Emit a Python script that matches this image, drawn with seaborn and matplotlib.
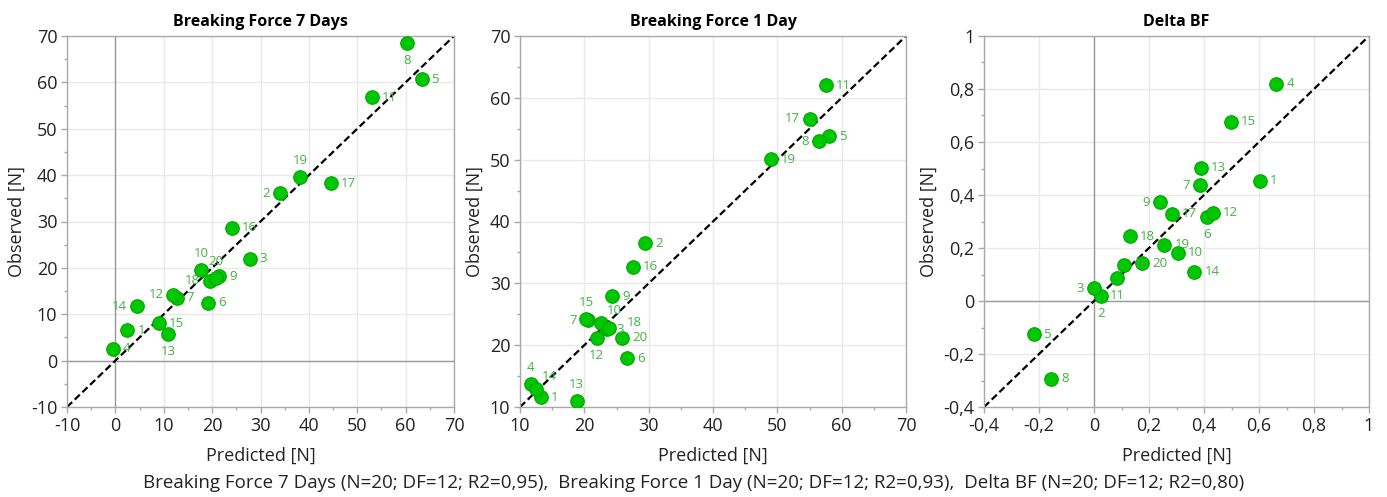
import matplotlib
matplotlib.use("Agg")
import matplotlib.pyplot as plt
from matplotlib.ticker import MultipleLocator, FuncFormatter
import numpy as np
import pandas as pd
import seaborn as sns

# Observation numbers
ids = list(range(1, 21))

# Breaking Force 7 Days
bf7_pred = [2.5, 34.1, 27.8, -0.5, 63.3, 19.2, 12.7, 60.3, 21.4, 17.7,
            53.1, 12.0, 10.9, 4.5, 9.0, 24.1, 44.6, 19.6, 38.2, 20.7]
bf7_obs = [6.5, 36.1, 22.0, 2.6, 60.7, 12.5, 13.6, 68.5, 18.2, 19.6,
           56.8, 14.2, 5.7, 11.7, 8.1, 28.6, 38.3, 17.2, 39.6, 17.8]

# Breaking Force 1 Day
bf1_pred = [13.3, 29.5, 23.5, 11.7, 58.1, 26.6, 20.5, 56.5, 24.3, 22.6,
            57.5, 21.9, 18.8, 12.5, 20.3, 27.6, 55.1, 23.9, 49.0, 25.9]
bf1_obs = [11.6, 36.5, 22.6, 13.8, 53.8, 17.9, 24.0, 53.0, 27.9, 23.6,
           62.0, 21.2, 10.9, 12.9, 24.2, 32.7, 56.6, 22.8, 50.1, 21.2]

# Delta BF
dbf_pred = [0.602, 0.026, 0.000, 0.663, -0.220, 0.410, 0.385, -0.155, 0.241, 0.304,
            0.084, 0.433, 0.390, 0.365, 0.497, 0.110, 0.282, 0.130, 0.256, 0.174]
dbf_obs = [0.454, 0.020, 0.049, 0.819, -0.126, 0.316, 0.437, -0.293, 0.372, 0.183,
           0.085, 0.333, 0.503, 0.110, 0.676, 0.136, 0.330, 0.245, 0.213, 0.143]

titles = ["Breaking Force 7 Days", "Breaking Force 1 Day", "Delta BF"]
x_label = "Predicted [N]"
y_label = "Observed [N]"
caption = ("Breaking Force 7 Days (N=20; DF=12; R2=0,95),  "
           "Breaking Force 1 Day (N=20; DF=12; R2=0,93),  "
           "Delta BF (N=20; DF=12; R2=0,80)")

# Label placement around each marker: r=right, l=left, a=above, b=below,
# ar=above-right, rr=further right and slightly raised
placements = [
    {1: "r", 2: "l", 3: "r", 4: "r", 5: "r", 6: "r", 7: "r", 8: "b", 9: "r", 10: "a",
     11: "r", 12: "l", 13: "b", 14: "l", 15: "r", 16: "r", 17: "r", 18: "l", 19: "a", 20: "a"},
    {1: "r", 2: "r", 3: "r", 4: "a", 5: "r", 6: "r", 7: "l", 8: "l", 9: "r", 10: "ar",
     11: "r", 12: "b", 13: "a", 14: "ar", 15: "a", 16: "r", 17: "l", 18: "rr", 19: "r", 20: "r"},
    {1: "r", 2: "b", 3: "l", 4: "r", 5: "r", 6: "b", 7: "l", 8: "r", 9: "l", 10: "r",
     11: "b", 12: "r", 13: "r", 14: "r", 15: "r", 16: "r", 17: "r", 18: "r", 19: "r", 20: "r"},
]

panels = [
    dict(pred=bf7_pred, obs=bf7_obs, lim=(-10, 70), major=10, minor=5, zero=True),
    dict(pred=bf1_pred, obs=bf1_obs, lim=(10, 70), major=10, minor=5, zero=False),
    dict(pred=dbf_pred, obs=dbf_obs, lim=(-0.4, 1.0), major=0.2, minor=0.1, zero=True),
]

sns.set_style("white")
plt.rcParams["font.family"] = ["Open Sans", "DejaVu Sans"]

fig = plt.figure(figsize=(13.87, 4.97), dpi=100)
lefts = [67, 520, 984]
widths = [387, 386, 385]
W, H = 1387, 497
ax_bottom = 1 - 407 / H
ax_height = 371 / H

POINT_GREEN = "#00c800"
EDGE_GREEN = "#00a300"
LABEL_GREEN = "#45b045"
SPINE = "#a9a9a9"


def comma_fmt(v, pos):
    if abs(v) < 1e-9:
        return "0"
    s = f"{v:.1f}" if abs(v - round(v)) > 1e-9 else f"{int(round(v))}"
    return s.replace(".", ",")


offsets = {
    "r": ((10, 0), "left", "center"),
    "rr": ((17, 5), "left", "center"),
    "l": ((-10, 0), "right", "center"),
    "a": ((0, 10), "center", "bottom"),
    "b": ((0, -11), "center", "top"),
    "ar": ((6, 6), "left", "bottom"),
}

for i, p in enumerate(panels):
    ax = fig.add_axes([lefts[i] / W, ax_bottom, widths[i] / W, ax_height])
    lo, hi = p["lim"]
    df = pd.DataFrame({"id": ids, "pred": p["pred"], "obs": p["obs"]})

    ax.set_xlim(lo, hi)
    ax.set_ylim(lo, hi)
    ax.xaxis.set_major_locator(MultipleLocator(p["major"]))
    ax.yaxis.set_major_locator(MultipleLocator(p["major"]))
    ax.xaxis.set_minor_locator(MultipleLocator(p["minor"]))
    ax.yaxis.set_minor_locator(MultipleLocator(p["minor"]))
    ax.xaxis.set_major_formatter(FuncFormatter(comma_fmt))
    ax.yaxis.set_major_formatter(FuncFormatter(comma_fmt))
    ax.grid(True, which="major", color="#e9e9e9", linewidth=1.0, zorder=0)
    ax.set_axisbelow(True)
    if p["zero"]:
        ax.axhline(0, color="#9a9a9a", linewidth=1.0, zorder=1)
        ax.axvline(0, color="#9a9a9a", linewidth=1.0, zorder=1)

    ax.plot([lo, hi], [lo, hi], color="black", linestyle=(0, (3.2, 1.6)),
            linewidth=1.6, zorder=2)

    sns.scatterplot(data=df, x="pred", y="obs", ax=ax, s=95, color=POINT_GREEN,
                    edgecolor=EDGE_GREEN, linewidth=0.8, zorder=3, legend=False)

    for pid, xv, yv in zip(ids, p["pred"], p["obs"]):
        (dx, dy), ha, va = offsets[placements[i][pid]]
        ax.annotate(str(pid), (xv, yv), xytext=(dx, dy), textcoords="offset pixels",
                    ha=ha, va=va, fontsize=9.5, color=LABEL_GREEN, zorder=4)

    for sp in ax.spines.values():
        sp.set_color(SPINE)
        sp.set_linewidth(1.0)
    ax.tick_params(which="major", direction="out", length=4, width=1.0,
                   color=SPINE, labelsize=13, labelcolor="#222222", pad=3,
                   bottom=True, left=True)
    ax.tick_params(which="minor", direction="out", length=2.5, width=1.0,
                   color=SPINE, bottom=True, left=True)

    ax.set_title(titles[i], fontsize=11.5, fontweight="bold", color="black", pad=7)
    ax.set_xlabel(x_label, fontsize=13, color="#222222", labelpad=9)
    ax.set_ylabel(y_label, fontsize=13, color="#222222", labelpad=4)

fig.text(0.5, 1 - 483 / H, caption, ha="center", va="center", fontsize=13.5,
         color="#222222")

fig.savefig("out.png", dpi=100)
